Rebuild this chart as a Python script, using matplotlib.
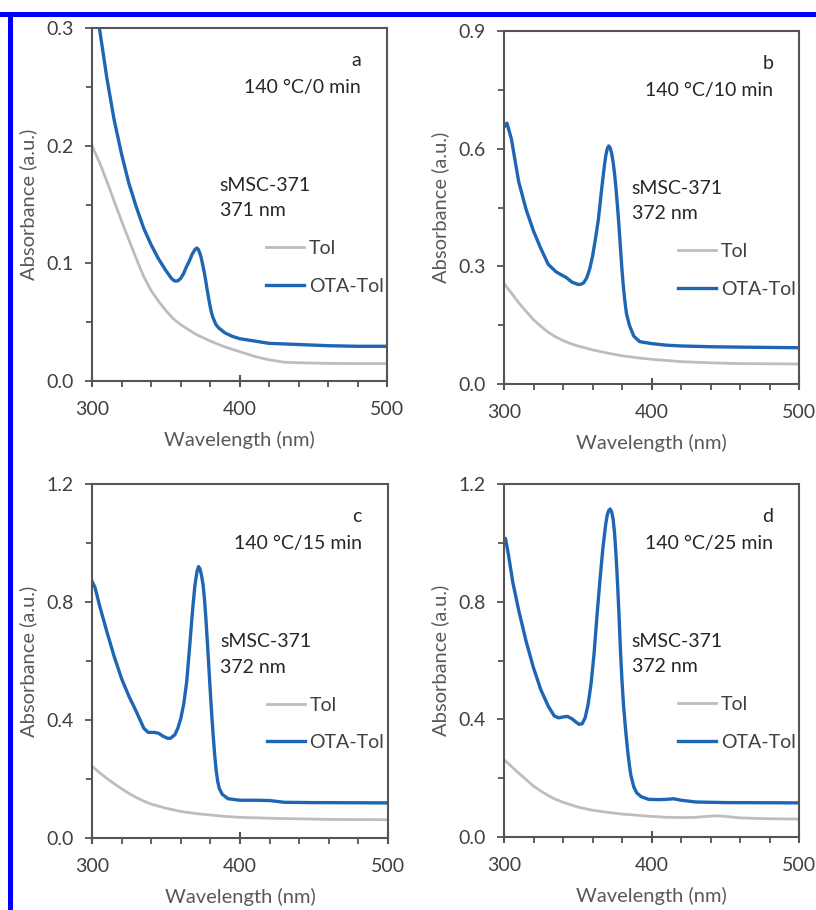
import matplotlib
matplotlib.use("Agg")
import matplotlib.pyplot as plt
from matplotlib.ticker import MultipleLocator, FormatStrFormatter
from matplotlib.patches import Rectangle

plt.rcParams['font.family'] = ['Lato', 'DejaVu Sans']

# ---------------- data ----------------
panel_letters = ["a", "b", "c", "d"]
conditions = ["140 °C/0 min", "140 °C/10 min", "140 °C/15 min", "140 °C/25 min"]
peak_labels = ["371 nm", "372 nm", "372 nm", "372 nm"]
sample_name = "sMSC-371"
series_names = ["Tol", "OTA-Tol"]
y_max = [0.3, 0.9, 1.2, 1.2]
y_major = [0.1, 0.3, 0.4, 0.4]
y_minor = [0.05, 0.15, 0.2, 0.2]
x_ticks = [300, 400, 500]

# panel a
wl_a_tol = [300, 305, 310, 315, 320, 325, 330, 335, 340, 345, 350, 355, 360, 370, 380, 390, 400, 410, 420, 430, 440, 460, 480, 500]
ab_a_tol = [0.200, 0.186, 0.170, 0.153, 0.136, 0.120, 0.104, 0.089, 0.077, 0.068, 0.060, 0.053, 0.048, 0.040, 0.034, 0.029, 0.025, 0.021, 0.018, 0.016, 0.0155, 0.015, 0.0148, 0.0148]
wl_a_ota = [300, 303, 305, 308, 310, 315, 320, 325, 330, 335, 340, 345, 350, 354, 356, 358, 360, 362, 364, 366, 368, 369, 370, 371, 372, 373, 374, 375, 376, 377, 378, 379, 380, 381, 382, 384, 386, 388, 390, 395, 400, 410, 420, 440, 460, 480, 500]
ab_a_ota = [0.345, 0.318, 0.300, 0.275, 0.258, 0.222, 0.193, 0.168, 0.148, 0.130, 0.116, 0.104, 0.094, 0.087, 0.085, 0.085, 0.087, 0.091, 0.097, 0.102, 0.108, 0.110, 0.112, 0.113, 0.112, 0.109, 0.105, 0.099, 0.093, 0.086, 0.078, 0.071, 0.064, 0.058, 0.054, 0.048, 0.045, 0.043, 0.041, 0.038, 0.036, 0.034, 0.032, 0.031, 0.030, 0.0295, 0.0295]

# panel b
wl_b_tol = [300, 305, 310, 315, 320, 325, 330, 335, 340, 345, 350, 360, 370, 380, 390, 400, 420, 440, 460, 500]
ab_b_tol = [0.256, 0.232, 0.207, 0.185, 0.164, 0.147, 0.132, 0.120, 0.111, 0.103, 0.097, 0.087, 0.079, 0.072, 0.067, 0.063, 0.057, 0.054, 0.052, 0.051]
wl_b_ota = [300, 302, 305, 310, 315, 320, 325, 330, 335, 338, 342, 346, 350, 352, 354, 356, 358, 360, 362, 364, 366, 368, 369, 370, 371, 372, 373, 374, 375, 376, 377, 378, 379, 380, 381, 382, 383, 385, 388, 392, 400, 410, 420, 440, 460, 500]
ab_b_ota = [0.655, 0.665, 0.625, 0.515, 0.445, 0.390, 0.345, 0.305, 0.287, 0.280, 0.272, 0.260, 0.254, 0.254, 0.258, 0.270, 0.292, 0.325, 0.370, 0.420, 0.490, 0.555, 0.582, 0.600, 0.607, 0.602, 0.588, 0.565, 0.535, 0.495, 0.450, 0.400, 0.345, 0.290, 0.245, 0.210, 0.180, 0.150, 0.122, 0.108, 0.103, 0.099, 0.097, 0.095, 0.094, 0.0925]

# panel c
wl_c_tol = [300, 305, 310, 315, 320, 325, 330, 335, 340, 350, 360, 370, 380, 390, 400, 420, 440, 460, 500]
ab_c_tol = [0.243, 0.222, 0.202, 0.184, 0.167, 0.151, 0.137, 0.125, 0.115, 0.101, 0.090, 0.083, 0.078, 0.073, 0.070, 0.067, 0.065, 0.063, 0.062]
wl_c_ota = [300, 302, 305, 310, 315, 320, 325, 330, 335, 338, 342, 345, 348, 351, 353, 356, 358, 360, 362, 364, 366, 368, 369.5, 371, 372, 373, 374, 375, 376, 377, 378, 379, 380, 381, 382, 383, 384, 385, 386, 388, 392, 400, 410, 420, 430, 450, 500]
ab_c_ota = [0.870, 0.850, 0.790, 0.700, 0.615, 0.540, 0.480, 0.428, 0.372, 0.358, 0.358, 0.355, 0.345, 0.338, 0.338, 0.350, 0.372, 0.405, 0.455, 0.530, 0.650, 0.775, 0.855, 0.905, 0.920, 0.912, 0.890, 0.860, 0.810, 0.740, 0.660, 0.575, 0.490, 0.410, 0.340, 0.275, 0.225, 0.190, 0.168, 0.148, 0.133, 0.128, 0.128, 0.127, 0.121, 0.120, 0.119]

# panel d
wl_d_tol = [300, 305, 310, 315, 320, 325, 330, 335, 340, 350, 360, 370, 380, 390, 400, 410, 420, 430, 440, 445, 450, 460, 480, 500]
ab_d_tol = [0.263, 0.240, 0.217, 0.195, 0.173, 0.156, 0.141, 0.128, 0.118, 0.102, 0.091, 0.084, 0.078, 0.074, 0.070, 0.067, 0.066, 0.067, 0.071, 0.072, 0.070, 0.065, 0.062, 0.061]
wl_d_ota = [300, 301, 303, 306, 310, 315, 320, 325, 330, 334, 337, 340, 343, 346, 349, 351, 353, 355, 357, 359, 361, 363, 365, 367, 369, 370, 371, 372, 373, 374, 375, 376, 377, 378, 379, 380, 381, 382, 383, 384, 385, 386, 388, 390, 393, 398, 405, 410, 415, 420, 430, 450, 500]
ab_d_ota = [1.005, 1.015, 0.960, 0.865, 0.770, 0.665, 0.575, 0.500, 0.445, 0.412, 0.405, 0.408, 0.410, 0.402, 0.390, 0.383, 0.385, 0.405, 0.450, 0.520, 0.620, 0.750, 0.870, 0.980, 1.065, 1.095, 1.110, 1.115, 1.105, 1.080, 1.030, 0.955, 0.860, 0.750, 0.630, 0.530, 0.450, 0.390, 0.335, 0.285, 0.245, 0.210, 0.170, 0.150, 0.137, 0.128, 0.127, 0.128, 0.130, 0.125, 0.119, 0.117, 0.116]

tol_data = [(wl_a_tol, ab_a_tol), (wl_b_tol, ab_b_tol), (wl_c_tol, ab_c_tol), (wl_d_tol, ab_d_tol)]
ota_data = [(wl_a_ota, ab_a_ota), (wl_b_ota, ab_b_ota), (wl_c_ota, ab_c_ota), (wl_d_ota, ab_d_ota)]

# ---------------- styling ----------------
W, H = 816, 910
fig = plt.figure(figsize=(W / 100, H / 100), dpi=100)

# blue frame of the original figure (top and left edges)
fig.patches.append(Rectangle((0, 1 - 17 / H), 1, 5 / H, transform=fig.transFigure,
                             facecolor="#0000FF", edgecolor="none"))
fig.patches.append(Rectangle((8 / W, 0), 5 / W, 1 - 12 / H, transform=fig.transFigure,
                             facecolor="#0000FF", edgecolor="none"))

# axes boxes in pixels: (left, top, right, bottom)
boxes = [(92, 28, 387, 381), (504, 31, 799, 384), (92, 484, 388, 838), (504, 484, 799, 837)]

spine_col = "#555555"
tick_col = "#404040"
blue = "#1E66B4"
gray = "#BDBDBD"
fs = 14

for i, (l, t, r, b) in enumerate(boxes):
    ax = fig.add_axes([l / W, 1 - b / H, (r - l) / W, (b - t) / H])
    x, y = tol_data[i]
    ax.plot(x, y, color=gray, lw=2.0, label=series_names[0])
    x, y = ota_data[i]
    ax.plot(x, y, color=blue, lw=2.4, label=series_names[1])

    ax.set_xlim(300, 500)
    ax.set_ylim(0, y_max[i])
    ax.set_xticks(x_ticks)
    ax.xaxis.set_minor_locator(MultipleLocator(20))
    ax.yaxis.set_major_locator(MultipleLocator(y_major[i]))
    ax.yaxis.set_minor_locator(MultipleLocator(y_minor[i]))
    ax.yaxis.set_major_formatter(FormatStrFormatter("%.1f"))

    for sp in ax.spines.values():
        sp.set_color(spine_col)
        sp.set_linewidth(1.5)

    ax.tick_params(axis="x", which="major", direction="inout", length=9, width=1.5,
                   color=spine_col, labelcolor=tick_col, labelsize=fs, pad=10)
    ax.tick_params(axis="x", which="minor", direction="out", length=4, width=1.3,
                   color=spine_col)
    ax.tick_params(axis="y", which="major", direction="out", length=5, width=1.3,
                   color=spine_col, labelcolor=tick_col, labelsize=fs, pad=8)
    ax.tick_params(axis="y", which="minor", direction="out", length=4, width=1.3,
                   color=spine_col)

    ax.set_xlabel("Wavelength (nm)", fontsize=14.5, color="#595959", labelpad=9)
    ax.set_ylabel("Absorbance (a.u.)", fontsize=14.5, color="#595959", labelpad=7)

    tc = "#262626"
    ax.text(0.895, 0.908, panel_letters[i], transform=ax.transAxes, ha="center",
            va="center", fontsize=fs, color=tc)
    ax.text(0.912, 0.832, conditions[i], transform=ax.transAxes, ha="right",
            va="center", fontsize=fs, color=tc)
    ax.text(0.433, 0.554, sample_name, transform=ax.transAxes, ha="left",
            va="center", fontsize=fs, color=tc)
    ax.text(0.433, 0.482, peak_labels[i], transform=ax.transAxes, ha="left",
            va="center", fontsize=fs, color=tc)

    ax.legend(loc="center left", bbox_to_anchor=(0.59, 0.322), frameon=False,
              fontsize=fs, handlelength=1.95, handletextpad=0.25,
              labelspacing=1.05, borderpad=0, borderaxespad=0, labelcolor="#404040")

fig.savefig("out.png", dpi=100)
